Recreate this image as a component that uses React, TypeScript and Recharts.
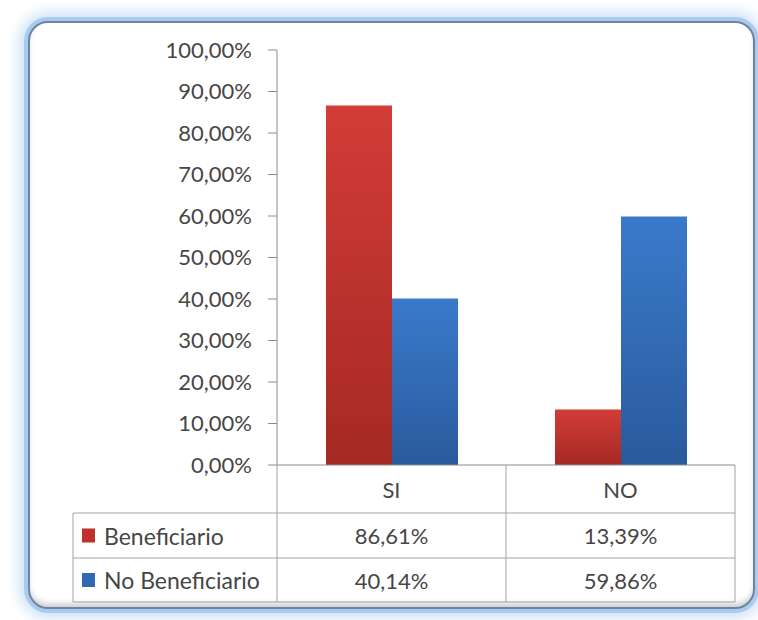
import { Bar, BarChart, XAxis, YAxis } from 'recharts';

const categories = ['SI', 'NO'];
const beneficiario = [86.61, 13.39];
const noBeneficiario = [40.14, 59.86];
const yTicks = [0, 10, 20, 30, 40, 50, 60, 70, 80, 90, 100];

const seriesNames = ['Beneficiario', 'No Beneficiario'];
const seriesColours = ['#c0302c', '#2f68b4'];

const data = categories.map((c, i) => ({
  name: c,
  beneficiario: beneficiario[i],
  noBeneficiario: noBeneficiario[i],
}));
const seriesValues = [beneficiario, noBeneficiario];

const W = 758;
const H = 620;
const MARGIN = { top: 50, right: 23, bottom: 18, left: 177 };
const Y_AXIS_W = 100;
const PLOT_LEFT = MARGIN.left + Y_AXIS_W;
const PLOT_RIGHT = W - MARGIN.right;
const CELL_W = (PLOT_RIGHT - PLOT_LEFT) / categories.length;
const ROWS = [48, 45, 44];
const TABLE_H = ROWS[0] + ROWS[1] + ROWS[2];
const LEGEND_LEFT = 73;
const LINE = '#a3a3a3';
const TEXT = '#464646';
const FONT = 'Lato, "Open Sans", sans-serif';

const fmt = (v: number) => v.toFixed(2).replace('.', ',') + '%';

function TableTick(props: any) {
  const { x, y, payload, index } = props;
  const col = categories.indexOf(payload.value);
  const left = x - CELL_W / 2;
  const right = x + CELL_W / 2;
  const r1 = y + ROWS[0];
  const r2 = r1 + ROWS[1];
  const r3 = r2 + ROWS[2];
  return (
    <g fontFamily={FONT} fontSize={22} fill={TEXT}>
      <line x1={right} y1={y} x2={right} y2={r3} stroke={LINE} />
      <line x1={left} y1={r1} x2={right} y2={r1} stroke={LINE} />
      <line x1={left} y1={r2} x2={right} y2={r2} stroke={LINE} />
      <line x1={left} y1={r3} x2={right} y2={r3} stroke={LINE} />
      <text x={x} y={y + ROWS[0] / 2} textAnchor="middle" dominantBaseline="central">
        {payload.value}
      </text>
      {seriesValues.map((vals, i) => (
        <text
          key={i}
          x={x}
          y={(i === 0 ? r1 : r2) + ROWS[i + 1] / 2}
          textAnchor="middle"
          dominantBaseline="central"
        >
          {fmt(vals[col])}
        </text>
      ))}
      {index === 0 && (
        <g>
          <line x1={left} y1={y} x2={left} y2={r3} stroke={LINE} />
          <line x1={LEGEND_LEFT} y1={r1} x2={left} y2={r1} stroke={LINE} />
          <line x1={LEGEND_LEFT} y1={r2} x2={left} y2={r2} stroke={LINE} />
          <line x1={LEGEND_LEFT} y1={r3} x2={left} y2={r3} stroke={LINE} />
          <line x1={LEGEND_LEFT} y1={r1} x2={LEGEND_LEFT} y2={r3} stroke={LINE} />
          {seriesNames.map((n, i) => {
            const cy = (i === 0 ? r1 : r2) + ROWS[i + 1] / 2;
            return (
              <g key={n}>
                <rect x={82} y={cy - 7} width={13} height={14} fill={seriesColours[i]} />
                <text x={104} y={cy} fontSize={23} dominantBaseline="central">
                  {n}
                </text>
              </g>
            );
          })}
        </g>
      )}
    </g>
  );
}

export default function App() {
  return (
    <div
      style={{
        position: 'fixed',
        top: 0,
        left: 0,
        width: W,
        height: H,
        background: '#fff',
        overflow: 'hidden',
      }}
    >
      <div
        style={{
          position: 'absolute',
          left: 28,
          top: 21,
          width: 723,
          height: 584,
          border: '2px solid #6f84a0',
          borderRadius: 20,
          background: '#fff',
          boxShadow:
            '0 0 0 4px #a9cbef, 0 0 14px 9px #cde1f7, inset 0 -5px 6px -2px rgba(0,0,0,0.22)',
        }}
      />
      <div style={{ position: 'absolute', left: 0, top: 0 }}>
        <BarChart
          width={W}
          height={H}
          data={data}
          margin={MARGIN}
          barCategoryGap={49}
          barGap={0}
        >
          <defs>
            <linearGradient id="gRed" x1="0" y1="0" x2="0" y2="1">
              <stop offset="0%" stopColor="#d33c37" />
              <stop offset="100%" stopColor="#a52924" />
            </linearGradient>
            <linearGradient id="gBlue" x1="0" y1="0" x2="0" y2="1">
              <stop offset="0%" stopColor="#3a7acb" />
              <stop offset="100%" stopColor="#2a5a9c" />
            </linearGradient>
          </defs>
          <YAxis
            width={Y_AXIS_W}
            domain={[0, 100]}
            ticks={yTicks}
            tickFormatter={fmt}
            tickSize={9}
            tickMargin={16}
            axisLine={{ stroke: '#8c8c8c' }}
            tickLine={{ stroke: '#8c8c8c' }}
            tick={{ fill: TEXT, fontSize: 22, fontFamily: FONT }}
            interval={0}
          />
          <XAxis
            dataKey="name"
            height={TABLE_H}
            tickSize={0}
            tickMargin={0}
            tickLine={false}
            axisLine={{ stroke: '#8c8c8c' }}
            tick={<TableTick />}
            interval={0}
          />
          <Bar dataKey="beneficiario" fill="url(#gRed)" isAnimationActive={false} />
          <Bar dataKey="noBeneficiario" fill="url(#gBlue)" isAnimationActive={false} />
        </BarChart>
      </div>
    </div>
  );
}
